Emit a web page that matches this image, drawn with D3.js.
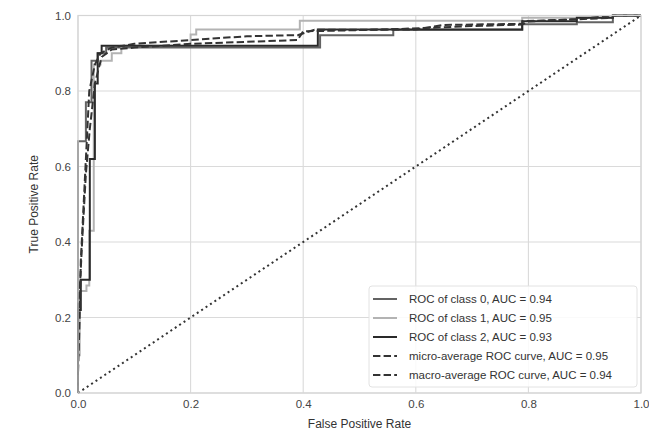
<!DOCTYPE html>
<html>
<head>
<meta charset="utf-8">
<script src="https://cdn.jsdelivr.net/npm/d3@7"></script>
<style>
  body { margin: 0; background: #fff; }
  svg text { font-family: "Liberation Sans", Arial, sans-serif; }
</style>
</head>
<body>
<svg id="chart"></svg>
<script>
// ROC curves

var width = 649,
    height = 432;

var m = [15.5, 8, 39, 78],   // top, right, bottom, left
    w = width - m[1] - m[3],
    h = height - m[0] - m[2];

var ticks = [0, 0.2, 0.4, 0.6, 0.8, 1.0];

var fpr0 = [0, 0, 0.014, 0.014, 0.024, 0.024, 0.035, 0.035, 0.05, 0.05, 0.43, 0.43, 0.56, 0.56, 0.789, 0.789, 0.886, 0.886, 0.95, 0.95, 1];
var tpr0 = [0, 0.667, 0.667, 0.77, 0.77, 0.88, 0.88, 0.90, 0.90, 0.915, 0.915, 0.948, 0.948, 0.962, 0.962, 0.977, 0.977, 0.982, 0.982, 1, 1];

var fpr1 = [0, 0, 0.003, 0.003, 0.015, 0.015, 0.02, 0.02, 0.028, 0.028, 0.04, 0.04, 0.06, 0.06, 0.077, 0.077, 0.2, 0.2, 0.21, 0.21, 0.394, 0.394, 0.789, 0.789, 0.95, 0.95, 1];
var tpr1 = [0, 0.1, 0.1, 0.27, 0.27, 0.285, 0.285, 0.43, 0.43, 0.87, 0.87, 0.88, 0.88, 0.90, 0.90, 0.92, 0.92, 0.95, 0.95, 0.963, 0.963, 0.986, 0.986, 0.994, 0.994, 1, 1];

var fpr2 = [0, 0, 0.005, 0.005, 0.021, 0.021, 0.03, 0.03, 0.035, 0.035, 0.042, 0.042, 0.426, 0.426, 0.789, 0.789, 0.886, 0.886, 0.95, 0.95, 1];
var tpr2 = [0, 0.22, 0.22, 0.30, 0.30, 0.62, 0.62, 0.82, 0.82, 0.90, 0.90, 0.92, 0.92, 0.963, 0.963, 0.985, 0.985, 0.994, 0.994, 1, 1];

var fprMicro = [0, 0, 0.003, 0.005, 0.01, 0.015, 0.02, 0.03, 0.04, 0.06, 0.1, 0.2, 0.3, 0.39, 0.42, 0.6, 0.65, 0.79, 0.79, 0.886, 0.95, 0.95, 1];
var tprMicro = [0, 0.05, 0.2, 0.35, 0.5, 0.65, 0.8, 0.87, 0.9, 0.915, 0.925, 0.935, 0.945, 0.948, 0.962, 0.963, 0.975, 0.978, 0.985, 0.99, 0.994, 1, 1];

var fprMacro = [0, 0.004, 0.008, 0.014, 0.021, 0.03, 0.042, 0.06, 0.1, 0.2, 0.39, 0.40, 0.55, 0.7, 0.789, 0.8, 0.886, 0.95, 1];
var tprMacro = [0.22, 0.3, 0.42, 0.58, 0.7, 0.82, 0.89, 0.91, 0.915, 0.925, 0.935, 0.958, 0.963, 0.972, 0.976, 0.984, 0.99, 1, 1];

var names = ["ROC of class 0, AUC = 0.94", "ROC of class 1, AUC = 0.95", "ROC of class 2, AUC = 0.93",
             "micro-average ROC curve, AUC = 0.95", "macro-average ROC curve, AUC = 0.94"];

var curves = [
  {name: names[0], fpr: fpr0, tpr: tpr0, color: "#636363", dash: null},
  {name: names[1], fpr: fpr1, tpr: tpr1, color: "#b3b3b3", dash: null},
  {name: names[2], fpr: fpr2, tpr: tpr2, color: "#2a2a2a", dash: null},
  {name: names[3], fpr: fprMicro, tpr: tprMicro, color: "#333333", dash: "7.4,3.2"},
  {name: names[4], fpr: fprMacro, tpr: tprMacro, color: "#333333", dash: "7.4,3.2"}
];

var svg = d3.select("#chart")
    .attr("width", width)
    .attr("height", height);

var g = svg.append("g")
    .attr("transform", `translate(${m[3]},${m[0]})`);

var x = d3.scaleLinear().domain([0, 1]).range([0, w]);
var y = d3.scaleLinear().domain([0, 1]).range([h, 0]);

// grid
g.selectAll(".gx")
    .data(ticks)
    .enter().append("line")
    .attr("x1", d => x(d)).attr("x2", d => x(d))
    .attr("y1", 0).attr("y2", h)
    .attr("stroke", "#dadada").attr("stroke-width", 1.1);

g.selectAll(".gy")
    .data(ticks)
    .enter().append("line")
    .attr("y1", d => y(d)).attr("y2", d => y(d))
    .attr("x1", 0).attr("x2", w)
    .attr("stroke", "#dadada").attr("stroke-width", 1.1);

// axes (labels only, no tick marks)
var xAxis = g.append("g")
    .attr("transform", `translate(0,${h})`)
    .call(d3.axisBottom(x).tickValues(ticks).tickFormat(d3.format(".1f")).tickSize(0).tickPadding(7));
var yAxis = g.append("g")
    .call(d3.axisLeft(y).tickValues(ticks).tickFormat(d3.format(".1f")).tickSize(0).tickPadding(7));

[xAxis, yAxis].forEach(function(a) {
  a.select(".domain").remove();
  a.selectAll("text")
    .attr("fill", "#444")
    .style("font-size", "11.5px");
});

g.append("text")
    .attr("x", w / 2)
    .attr("y", h + 35)
    .attr("text-anchor", "middle")
    .attr("fill", "#333")
    .style("font-size", "12px")
    .text("False Positive Rate");

g.append("text")
    .attr("transform", `translate(${-40},${h / 2}) rotate(-90)`)
    .attr("text-anchor", "middle")
    .attr("fill", "#333")
    .style("font-size", "12px")
    .text("True Positive Rate");

// clip curves to plot area
svg.append("clipPath").attr("id", "clip")
  .append("rect").attr("x", -1).attr("y", -1).attr("width", w + 2).attr("height", h + 2);

var line = d3.line()
    .x(d => x(d[0]))
    .y(d => y(d[1]));

var plot = g.append("g").attr("clip-path", "url(#clip)");

// chance diagonal
plot.append("path")
    .attr("d", line([[0, 0], [1, 1]]))
    .attr("fill", "none")
    .attr("stroke", "#333")
    .attr("stroke-width", 2)
    .attr("stroke-dasharray", "2,3.3");

plot.selectAll(".curve")
    .data(curves)
    .enter().append("path")
    .attr("class", "curve")
    .attr("d", d => line(d.fpr.map((f, i) => [f, d.tpr[i]])))
    .attr("fill", "none")
    .attr("stroke", d => d.color)
    .attr("stroke-width", 2)
    .attr("stroke-dasharray", d => d.dash);

// frame
g.append("rect")
    .attr("width", w).attr("height", h)
    .attr("fill", "none")
    .attr("stroke", "#d5d5d5")
    .attr("stroke-width", 1.2);

// legend
var legend = g.append("g")
    .attr("transform", `translate(${w - 272},${h - 107})`);

legend.append("rect")
    .attr("width", 268).attr("height", 101)
    .attr("rx", 3)
    .attr("fill", "#fff")
    .attr("fill-opacity", 0.85)
    .attr("stroke", "#e2e2e2");

var item = legend.selectAll(".item")
    .data(curves)
    .enter().append("g")
    .attr("transform", (d, i) => `translate(0,${13 + i * 19})`);

item.append("line")
    .attr("x1", 4).attr("x2", 28)
    .attr("stroke", d => d.color)
    .attr("stroke-width", 2)
    .attr("stroke-dasharray", d => d.dash);

item.append("text")
    .attr("x", 40)
    .attr("dy", "0.35em")
    .attr("fill", "#333")
    .style("font-size", "11.5px")
    .text(d => d.name);
</script>
</body>
</html>
